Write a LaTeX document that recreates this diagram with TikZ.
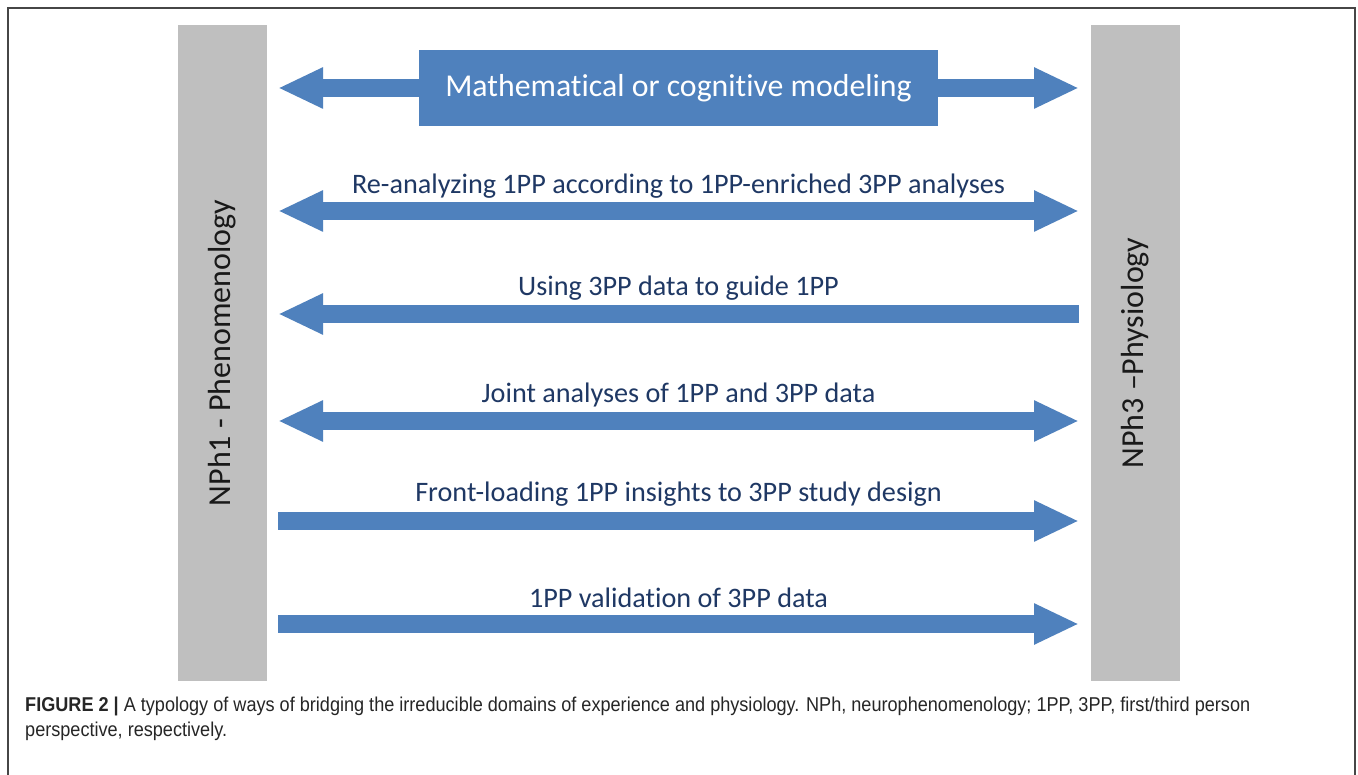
\documentclass[tikz,border=0pt]{standalone}
\usepackage{fontspec}
\usetikzlibrary{arrows.meta}
\setmainfont{Carlito}[Ligatures=NoCommon]
\newfontfamily\capfont[FakeStretch=0.905]{Liberation Sans}
\definecolor{arrowblue}{RGB}{79,129,189}
\definecolor{labelnavy}{RGB}{31,56,100}
\definecolor{bargray}{RGB}{191,191,191}
\definecolor{framegray}{RGB}{70,70,70}
\begin{document}
\begin{tikzpicture}[x=1pt,y=-1pt,
  domainbar/.style={fill=bargray,draw=none,minimum width=89pt,minimum height=656pt,inner sep=0pt},
  barlabel/.style={rotate=90,font=\fontsize{32}{36}\selectfont,text=black!90},
  link/.style={draw=arrowblue,line width=18pt},
  headL/.style={{Triangle[length=45pt,width=38pt]}-},
  headR/.style={-{Triangle[length=45pt,width=38pt]}},
  headLR/.style={{Triangle[length=45pt,width=38pt]}-{Triangle[length=45pt,width=38pt]}},
  linklabel/.style={font=\fontsize{28.2}{32}\selectfont,text=labelnavy,inner sep=0pt},
  caption/.style={font=\capfont\fontsize{20}{25}\selectfont,anchor=west,inner sep=0pt,text=black!85}]
\useasboundingbox (0,0) rectangle (1358,775);
\fill[white] (0,0) rectangle (1358,775);
% outer frame, open at the bottom
\draw[framegray,line width=1.5pt] (8,775) -- (8,8) -- (1355,8) -- (1355,775);

% the two domains
\node[domainbar] (lbar) at (222.5,353) {};
\node[domainbar] (rbar) at (1135,353) {};
\node[barlabel] (lname) at (lbar.center) {NPh1 - Phenomenology};
\node[barlabel] (rname) at (rbar.center) {NPh3 –Physiology};

% arrow end points
\foreach \i/\y in {1/88,2/211,3/314,4/421,5/521,6/624}{
  \coordinate (l\i) at (278,\y);
  \coordinate (r\i) at (1079,\y);
}

% bridging links
\draw[link,headLR] (l1) -- (r1);
\node[fill=arrowblue,minimum width=519pt,minimum height=76pt,inner sep=0pt,
      text=white,font=\fontsize{31.8}{36}\selectfont] (model) at (678.5,88) {Mathematical or cognitive modeling};

\draw[link,headLR] (l2) -- (r2);
\draw[link,headL] (l3) -- (r3);
\draw[link,headLR] (l4) -- (r4);
\draw[link,headR] (l5) -- (r5);
\draw[link,headR] (l6) -- (r6);

\node[linklabel] (t2) at (678.5,186) {Re-analyzing 1PP according to 1PP-enriched 3PP analyses};
\node[linklabel] (t3) at (678.5,288) {Using 3PP data to guide 1PP};
\node[linklabel] (t4) at (678.5,395) {Joint analyses of 1PP and 3PP data};
\node[linklabel] (t5) at (678.5,494) {Front-loading 1PP insights to 3PP study design};
\node[linklabel] (t6) at (678.5,598) {1PP validation of 3PP data};

% figure caption
\node[caption] (cap1) at (25,706) {\textbf{FIGURE 2 |} A typology of ways of bridging the irreducible domains of experience and physiology. NPh, neurophenomenology; 1PP, 3PP, first/third person};
\node[caption] (cap2) at (25,731) {perspective, respectively.};
\end{tikzpicture}
\end{document}
